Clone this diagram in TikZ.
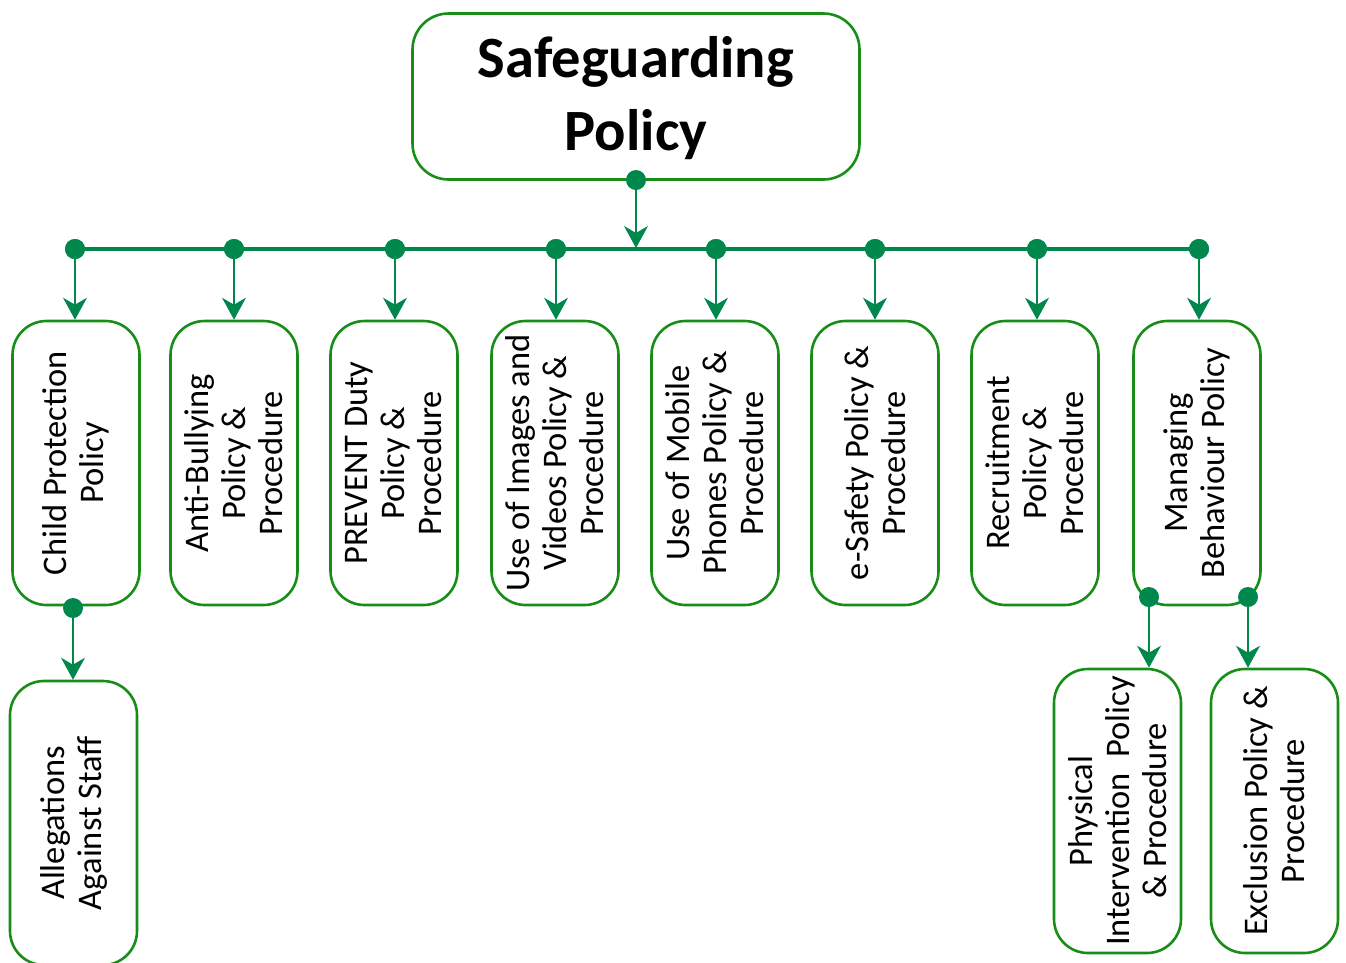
\documentclass[tikz,border=0pt]{standalone}
\usepackage{fontspec}
\setmainfont{Carlito}
\usetikzlibrary{arrows.meta,positioning}
\definecolor{boxgreen}{RGB}{24,142,24}
\definecolor{dotgreen}{RGB}{0,136,76}
\tikzset{
  pbox/.style={draw=boxgreen,line width=2.6pt,rounded corners=34pt,fill=white,
    minimum width=127pt,minimum height=284pt,inner sep=0pt},
  ptext/.style={rotate=90,align=center,font=\fontsize{34.5}{37}\selectfont,inner sep=0pt},
  dot/.style={circle,fill=dotgreen,inner sep=0pt,minimum size=20pt},
  conn/.style={draw=dotgreen,line width=1.3pt,-{Stealth[length=22pt,width=24pt,inset=7pt]}},
  bus/.style={draw=dotgreen,line width=4.5pt}
}
\begin{document}
\begin{tikzpicture}[x=1pt,y=-1pt]
\useasboundingbox (0,0) rectangle (1346,962);
\clip (0,0) rectangle (1346,962);
% top box
\node[draw=boxgreen,line width=2.6pt,rounded corners=36pt,minimum width=447pt,minimum height=166pt,inner sep=0pt] (top) at (636,96.5) {};
\node[align=center,font=\fontsize{58.5}{73}\selectfont\bfseries,inner sep=0pt] (toptext) at (636,98) {Safeguarding\\Policy};
\node[dot] (d0) at (636,180) {};
% bus dots
\foreach \i/\x in {1/75,2/234,3/395,4/556,5/716,6/875,7/1037,8/1199}
  \node[dot] (d\i) at (\x,249) {};
\draw[bus] (d1.center) -- (d8.center);
\foreach \i in {1,...,8} \node[dot] at (d\i) {};
\path[conn] (d0.center) -- (636,248);
% boxes
\node[pbox] (b1) at (76,463) {};
\node[pbox] (b2) at (234,463) {};
\node[pbox] (b3) at (394,463) {};
\node[pbox] (b4) at (555,463) {};
\node[pbox] (b5) at (715,463) {};
\node[pbox] (b6) at (875,463) {};
\node[pbox] (b7) at (1035,463) {};
\node[pbox] (b8) at (1197,463) {};
\node[ptext] (t1) at (b1) {Child Protection\\Policy};
\node[ptext] (t2) at (b2) {Anti-Bullying\\Policy \&\\Procedure};
\node[ptext] (t3) at (b3) {PREVENT Duty\\Policy \&\\Procedure};
\node[ptext] (t4) at (b4) {Use of Images and\\Videos Policy \&\\Procedure};
\node[ptext] (t5) at (b5) {Use of Mobile\\Phones Policy \&\\Procedure};
\node[ptext] (t6) at (b6) {e-Safety Policy \&\\Procedure};
\node[ptext] (t7) at (b7) {Recruitment\\Policy \&\\Procedure};
\node[ptext] (t8) at (b8) {Managing\\Behaviour Policy};
\foreach \i in {1,...,8} \path[conn] (d\i.center) -- (d\i.center |- b\i.north);
% second level
\node[pbox] (b9) at (73.5,823) {};
\node[ptext] (t9) at (b9) {Allegations\\Against Staff};
\node[pbox] (b10) at (1117.5,811) {};
\node[ptext] (t10) at (b10) {Physical\\Intervention\ \ Policy\\\& Procedure};
\node[pbox] (b11) at (1274.5,811) {};
\node[ptext] (t11) at (b11) {Exclusion Policy \&\\Procedure};
\node[dot] (d9) at (73,608) {};
\node[dot] (d10) at (1149,597) {};
\node[dot] (d11) at (1248,597) {};
\path[conn] (d9.center) -- (d9.center |- b9.north);
\path[conn] (d10.center) -- (d10.center |- b10.north);
\path[conn] (d11.center) -- (d11.center |- b11.north);
\end{tikzpicture}
\end{document}
